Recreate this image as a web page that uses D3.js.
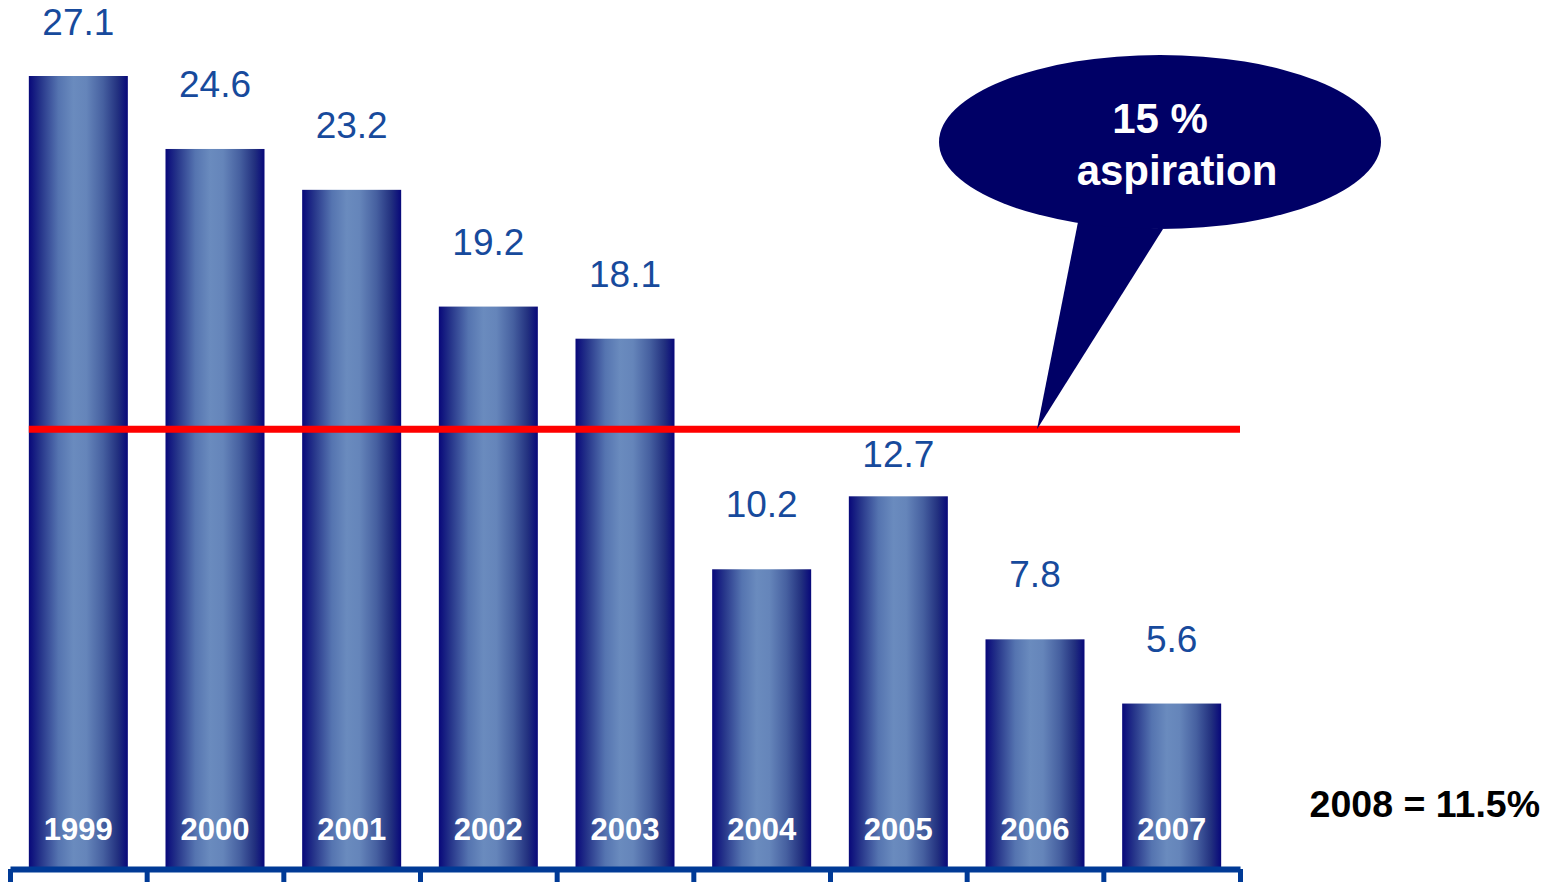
<!DOCTYPE html>
<html>
<head>
<meta charset="utf-8">
<script src="https://cdn.jsdelivr.net/npm/d3@7"></script>
<style>
  html, body { margin: 0; padding: 0; background: #fff; }
  svg { display: block; font-family: "Liberation Sans", Arial, sans-serif; }
</style>
</head>
<body>
<svg id="chart" width="1560" height="882"></svg>
<script>
// Yearly values
const years = ["1999", "2000", "2001", "2002", "2003", "2004", "2005", "2006", "2007"];
const values = [27.1, 24.6, 23.2, 19.2, 18.1, 10.2, 12.7, 7.8, 5.6];
const aspiration = 15;
const aspirationLines = ["15 %", "aspiration"];
const note2008 = "2008 = 11.5%";

const svg = d3.select("#chart");

const x = d3.scaleBand().domain(years).range([10, 1240]).paddingInner(0.2756).paddingOuter(0.1378);
const y = d3.scaleLinear().domain([0, 27.1]).range([867, 76]);
const yA = y(aspiration);

// Horizontal gradient for the bars
const defs = svg.append("defs");
const grad = defs.append("linearGradient").attr("id", "barGrad")
  .attr("x1", "0%").attr("x2", "100%").attr("y1", "0%").attr("y2", "0%");
[
  [0, "#08087a"], [0.12, "#26358a"], [0.3, "#5574b0"], [0.45, "#6a8bbe"],
  [0.58, "#6585ba"], [0.75, "#4660a0"], [0.9, "#22307f"], [1, "#08087a"]
].forEach(([o, c]) => grad.append("stop").attr("offset", o).attr("stop-color", c));

// Bars
svg.append("g").selectAll("rect").data(years).join("rect")
  .attr("x", d => x(d))
  .attr("y", (d, i) => y(values[i]))
  .attr("width", x.bandwidth())
  .attr("height", (d, i) => y(0) - y(values[i]))
  .attr("fill", "url(#barGrad)");

// Year labels inside the bars
svg.append("g").selectAll("text").data(years).join("text")
  .attr("x", d => x(d) + x.bandwidth() / 2)
  .attr("y", 840)
  .attr("text-anchor", "middle")
  .attr("fill", "#ffffff")
  .attr("font-weight", "bold")
  .attr("font-size", 31)
  .text(d => d);

// Value labels above the bars; a label that would sit on the aspiration line drops below it
function labelBaseline(v) {
  let b = Math.max(35, y(v) - 52);
  if (b > yA - 6 && b - 27 < yA + 6) b = yA + 38;
  return b;
}
svg.append("g").selectAll("text").data(years).join("text")
  .attr("x", d => x(d) + x.bandwidth() / 2)
  .attr("y", (d, i) => labelBaseline(values[i]))
  .attr("text-anchor", "middle")
  .attr("fill", "#174a9c")
  .attr("font-size", 37)
  .text((d, i) => values[i].toFixed(1));

// Aspiration line
svg.append("line")
  .attr("x1", x(years[0])).attr("x2", 1240)
  .attr("y1", yA).attr("y2", yA)
  .attr("stroke", "#ff0000").attr("stroke-width", 7);

// Category axis: ticks on band boundaries
const edges = d3.scaleLinear().domain([0, years.length]).range(x.range());
const axis = svg.append("g")
  .attr("transform", "translate(0,869)")
  .call(d3.axisBottom(edges).tickValues(d3.range(years.length + 1)).tickSize(16).tickSizeOuter(0).tickFormat(""));
axis.select(".domain").attr("stroke", "#003a96").attr("stroke-width", 6);
axis.selectAll(".tick line").attr("stroke", "#003a96").attr("stroke-width", 5);

// Speech bubble pointing at the aspiration line
const bubble = svg.append("g");
const tip = [1037, yA];
bubble.append("path")
  .attr("d", `M1078,222 L${tip[0]},${tip[1]} L1163,229 Z`)
  .attr("fill", "#000066");
bubble.append("ellipse")
  .attr("cx", 1160).attr("cy", 142).attr("rx", 221).attr("ry", 87)
  .attr("fill", "#000066");
bubble.append("text")
  .attr("x", 1160).attr("y", 133)
  .attr("text-anchor", "middle").attr("fill", "#fff")
  .attr("font-weight", "bold").attr("font-size", 42)
  .text(aspirationLines[0]);
bubble.append("text")
  .attr("x", 1177).attr("y", 185)
  .attr("text-anchor", "middle").attr("fill", "#fff")
  .attr("font-weight", "bold").attr("font-size", 42)
  .text(aspirationLines[1]);

// 2008 note
svg.append("text")
  .attr("x", 1540).attr("y", 817)
  .attr("text-anchor", "end").attr("fill", "#000")
  .attr("font-weight", "bold").attr("font-size", 37.5)
  .text(note2008);
</script>
</body>
</html>
